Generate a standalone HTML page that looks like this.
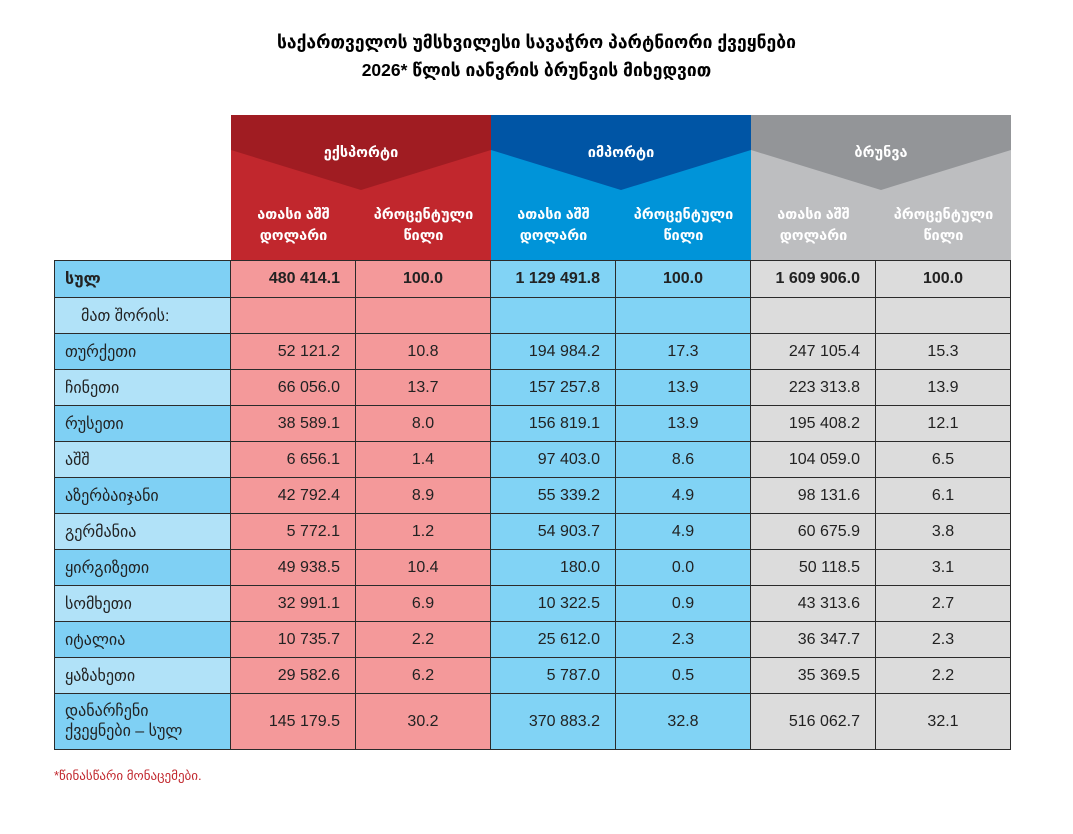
<!DOCTYPE html>
<html><head><meta charset="utf-8"><style>
body{margin:0;background:#fff;font-family:"Liberation Sans","DejaVu Sans",sans-serif;}
.wrap{position:relative;width:1073px;height:834px;}
.title{position:absolute;top:28px;left:0;width:1073px;text-align:center;font-weight:bold;font-size:17.5px;line-height:28px;color:#000;}
svg{position:absolute;left:0;top:0}
table{position:absolute;left:54px;top:260px;border-collapse:collapse;font-size:16px;color:#222}
td{border:1.5px solid #2b2b2b;padding:0;height:36px;}
td.l{width:176px;padding-left:10px;text-align:left;box-sizing:border-box}
td.a{width:125px;text-align:right;padding-right:15px;box-sizing:border-box}
td.b{width:135px;text-align:center;box-sizing:border-box}
.e{background:#f4999a}.i{background:#81d3f5}.t{background:#dcdcdc}
.d{background:#7fd0f4}.lt{background:#b1e2f8}
tr.bold td{font-weight:bold}
.note{position:absolute;left:54px;top:768px;color:#c1272d;font-size:13px}
.h{position:absolute;color:#fff;font-weight:bold;font-size:14.5px;text-align:center;line-height:21px}
</style></head><body><div class="wrap">
<div class="title">საქართველოს უმსხვილესი სავაჭრო პარტნიორი ქვეყნები<br>2026* წლის იანვრის ბრუნვის მიხედვით</div>
<svg width="1073" height="834">
<rect x="231" y="115" width="260" height="145" fill="#c1272d"/>
<polygon points="231,115 491,115 491,150 361,190 231,150" fill="#a01c22"/>
<rect x="491" y="115" width="260" height="145" fill="#0094d9"/>
<polygon points="491,115 751,115 751,150 621,190 491,150" fill="#0055a5"/>
<rect x="751" y="115" width="260" height="145" fill="#bdbec0"/>
<polygon points="751,115 1011,115 1011,150 881,190 751,150" fill="#939598"/>
</svg>
<div class="h" style="left:231px;top:143px;width:260px">ექსპორტი</div>
<div class="h" style="left:491px;top:143px;width:260px">იმპორტი</div>
<div class="h" style="left:751px;top:143px;width:260px">ბრუნვა</div>
<div class="h" style="left:231px;top:205px;width:125px">ათასი აშშ<br>დოლარი</div>
<div class="h" style="left:356px;top:205px;width:135px">პროცენტული<br>წილი</div>
<div class="h" style="left:491px;top:205px;width:125px">ათასი აშშ<br>დოლარი</div>
<div class="h" style="left:616px;top:205px;width:135px">პროცენტული<br>წილი</div>
<div class="h" style="left:751px;top:205px;width:125px">ათასი აშშ<br>დოლარი</div>
<div class="h" style="left:876px;top:205px;width:135px">პროცენტული<br>წილი</div>
<table>
<tr class="bold"><td class="l d" style="height:37px">სულ</td><td class="a e">480 414.1</td><td class="b e">100.0</td><td class="a i">1 129 491.8</td><td class="b i">100.0</td><td class="a t">1 609 906.0</td><td class="b t">100.0</td></tr>
<tr><td class="l lt" style="padding-left:26px">მათ შორის:</td><td class="a e"></td><td class="b e"></td><td class="a i"></td><td class="b i"></td><td class="a t"></td><td class="b t"></td></tr>
<tr><td class="l d">თურქეთი</td><td class="a e">52 121.2</td><td class="b e">10.8</td><td class="a i">194 984.2</td><td class="b i">17.3</td><td class="a t">247 105.4</td><td class="b t">15.3</td></tr>
<tr><td class="l lt">ჩინეთი</td><td class="a e">66 056.0</td><td class="b e">13.7</td><td class="a i">157 257.8</td><td class="b i">13.9</td><td class="a t">223 313.8</td><td class="b t">13.9</td></tr>
<tr><td class="l d">რუსეთი</td><td class="a e">38 589.1</td><td class="b e">8.0</td><td class="a i">156 819.1</td><td class="b i">13.9</td><td class="a t">195 408.2</td><td class="b t">12.1</td></tr>
<tr><td class="l lt">აშშ</td><td class="a e">6 656.1</td><td class="b e">1.4</td><td class="a i">97 403.0</td><td class="b i">8.6</td><td class="a t">104 059.0</td><td class="b t">6.5</td></tr>
<tr><td class="l d">აზერბაიჯანი</td><td class="a e">42 792.4</td><td class="b e">8.9</td><td class="a i">55 339.2</td><td class="b i">4.9</td><td class="a t">98 131.6</td><td class="b t">6.1</td></tr>
<tr><td class="l lt">გერმანია</td><td class="a e">5 772.1</td><td class="b e">1.2</td><td class="a i">54 903.7</td><td class="b i">4.9</td><td class="a t">60 675.9</td><td class="b t">3.8</td></tr>
<tr><td class="l d">ყირგიზეთი</td><td class="a e">49 938.5</td><td class="b e">10.4</td><td class="a i">180.0</td><td class="b i">0.0</td><td class="a t">50 118.5</td><td class="b t">3.1</td></tr>
<tr><td class="l lt">სომხეთი</td><td class="a e">32 991.1</td><td class="b e">6.9</td><td class="a i">10 322.5</td><td class="b i">0.9</td><td class="a t">43 313.6</td><td class="b t">2.7</td></tr>
<tr><td class="l d">იტალია</td><td class="a e">10 735.7</td><td class="b e">2.2</td><td class="a i">25 612.0</td><td class="b i">2.3</td><td class="a t">36 347.7</td><td class="b t">2.3</td></tr>
<tr><td class="l lt">ყაზახეთი</td><td class="a e">29 582.6</td><td class="b e">6.2</td><td class="a i">5 787.0</td><td class="b i">0.5</td><td class="a t">35 369.5</td><td class="b t">2.2</td></tr>
<tr><td class="l d" style="height:56px;line-height:20px">დანარჩენი<br>ქვეყნები – სულ</td><td class="a e">145 179.5</td><td class="b e">30.2</td><td class="a i">370 883.2</td><td class="b i">32.8</td><td class="a t">516 062.7</td><td class="b t">32.1</td></tr>
</table>
<div class="note">*წინასწარი მონაცემები.</div>
</div></body></html>
